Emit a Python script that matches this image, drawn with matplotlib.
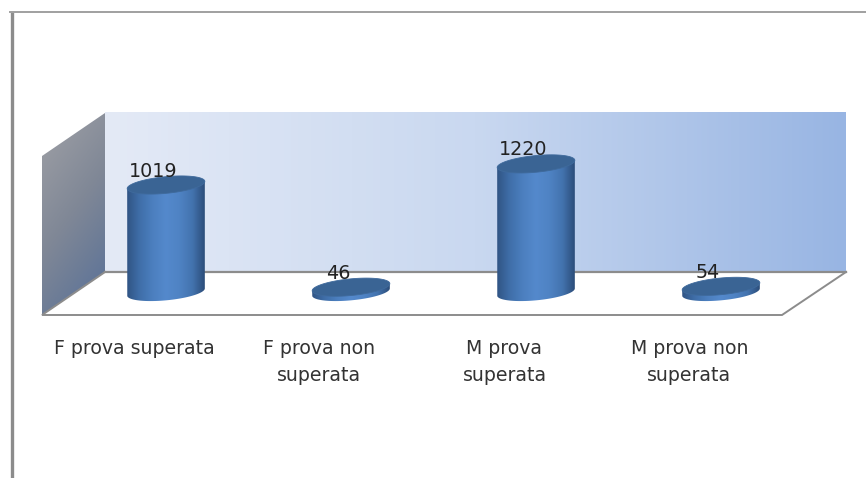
import numpy as np
import matplotlib.pyplot as plt
from matplotlib.colors import LinearSegmentedColormap
from matplotlib.patches import Polygon

W, H = 866, 478

categories = ['F prova superata', 'F prova non\nsuperata', 'M prova\nsuperata', 'M prova non\nsuperata']
values = [1019, 46, 1220, 54]

grey = '#8c8c8c'
side_cmap = LinearSegmentedColormap.from_list('side', ['#a0a1a6', '#7f8796', '#566f98'])
wall_cmap = LinearSegmentedColormap.from_list('wall', ['#e4eaf6', '#c9d8f0', '#98b5e3'])
cyl_cmap = LinearSegmentedColormap.from_list(
    'cyl', ['#2f5280', '#3f6ea8', '#4c7fbf', '#5489cc', '#4f83c4', '#4373ae', '#2a4a75'])

fig = plt.figure(figsize=(W / 100, H / 100), dpi=100)

# холст в пикселях для стенок и цилиндров
px = fig.add_axes([0, 0, 1, 1])
px.set_xlim(0, W)
px.set_ylim(H, 0)
px.axis('off')

# оси значений: 0 на уровне основания цилиндров
ax = fig.add_axes([73.5 / W, (H - 292) / H, 740 / W, 147 / H])
ax.set_xlim(-0.5, 3.5)
ax.set_ylim(0, 1400)
ax.axis('off')


def to_px(x, y):
    p = ax.transData.transform((x, y))
    return px.transData.inverted().transform(p)


def gradient(poly, cmap, extent, diagonal=False, zorder=1):
    if diagonal:
        g = np.linspace(0, 1, 100)[:, None] * 0.7 + np.linspace(0, 1, 100)[None, :] * 0.3
    else:
        g = np.linspace(0, 1, 256)[None, :]
    im = px.imshow(g, cmap=cmap, extent=extent, aspect='auto', zorder=zorder, vmin=0, vmax=1)
    patch = Polygon(poly, closed=True, transform=px.transData, fc='none', ec='none')
    px.add_patch(patch)
    im.set_clip_path(patch)


def ellipse(cx, cy, a=39, b=8.3, rot=-5.5):
    t = np.linspace(0, 2 * np.pi, 121)
    r = np.deg2rad(rot)
    ex, ey = a * np.cos(t), b * np.sin(t)
    return np.column_stack([cx + ex * np.cos(r) - ey * np.sin(r),
                            cy + ex * np.sin(r) + ey * np.cos(r)])


# стенки
gradient([(105, 112), (846, 112), (846, 272), (105, 272)], wall_cmap, (105, 846, 272, 112))
gradient([(42, 156), (105, 113), (105, 272), (42, 315)], side_cmap, (42, 105, 315, 113), diagonal=True)

# пол
px.plot([105, 846], [272, 272], color=grey, lw=1.6, zorder=2)
px.plot([105, 42, 782, 846], [272, 315, 315, 272], color=grey, lw=1.4, zorder=2, solid_joinstyle='miter')

# рамка
px.plot([11.5, 11.5], [H, 12], color=grey, lw=2.4, zorder=2, solid_capstyle='butt')
px.plot([10, W], [12, 12], color='#a0a0a0', lw=1.4, zorder=2)

# цилиндры
for i, (cat, v) in enumerate(zip(categories, values)):
    cx, base_y = to_px(i, 0)
    _, top_y = to_px(i, v)
    bottom = ellipse(cx, base_y)
    top = ellipse(cx, top_y)
    lower = bottom[(bottom[:, 1] >= base_y - 3.8 * (bottom[:, 0] - cx) / 39)]
    lower = lower[np.argsort(-lower[:, 0])]
    upper = top[np.argsort(top[:, 0])]
    body = np.vstack([upper, lower])
    gradient(body, cyl_cmap, (cx - 40, cx + 40, base_y + 12, top_y - 12), zorder=3)
    px.add_patch(Polygon(top, closed=True, fc='#3a6494', ec='#3f6a9c', lw=0.6, zorder=4))

    # подпись значения
    px.text(cx - 13, top_y - 14, str(v), ha='center', va='center', fontsize=13.8,
            color='#222222', zorder=5)

    # подпись категории
    lx, _ = to_px(i, 0)
    px.text(lx - 31.5, 339, cat, ha='center', va='top', fontsize=13.6,
            color='#333333', linespacing=1.52, zorder=5)

fig.savefig('out.png', dpi=100)
